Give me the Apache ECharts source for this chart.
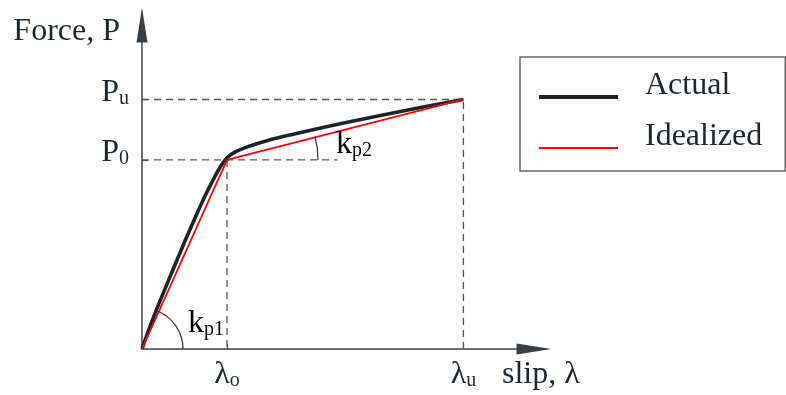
<!DOCTYPE html>
<html><head><meta charset="utf-8">
<script src="https://cdn.jsdelivr.net/npm/echarts@6.0.0/dist/echarts.min.js"></script>
<style>html,body{margin:0;padding:0;background:#fff}#c{width:786px;height:395px}</style>
</head><body><div id="c"></div>
<script>
// ---- data ----
const slipTickValues = [1.0, 3.78];
const slipTickMain = ['λ', 'λ'];
const slipTickSub = ['o', 'u'];
const forceTickValues = [1.0, 1.32];
const forceTickMain = ['P', 'P'];
const forceTickSub = ['0', 'u'];
const idealSlip = [0, 1.0, 3.78];
const idealForce = [0, 1.0, 1.32];
const actualSlip = [0, 0.12, 0.30, 0.50, 0.70, 0.82, 0.91, 1.00, 1.11, 1.27, 1.47, 1.74, 2.40, 3.10, 3.78];
const actualForce = [0, 0.15, 0.35, 0.565, 0.77, 0.88, 0.955, 1.012, 1.045, 1.074, 1.102, 1.132, 1.198, 1.262, 1.32];
const slipAxisMax = 4.61;
const forceAxisMax = 1.714;
const p0GuideEnd = 2.3;
const stiffnessSubs = ['p1', 'p2'];
const seriesNames = ['Actual', 'Idealized'];

// ---- chart ----
const FONT = 'Liberation Serif';
const TXT = '#1f2630';
const rich = {
  m: {fontSize: 32, lineHeight: 32, fontFamily: FONT, color: TXT, verticalAlign: 'bottom'},
  s: {fontSize: 20, lineHeight: 22, fontFamily: FONT, color: TXT, verticalAlign: 'bottom'}
};
const pick = (vals, v) => vals.findIndex(t => Math.abs(t - v) < 1e-9);
const zip = (a, b) => a.map((x, i) => [x, b[i]]);
const P0 = [idealSlip[1], idealForce[1]];
const PU = [slipTickValues[1], forceTickValues[1]];
const guide = {color: '#555', width: 1.3, type: [7, 5]};
const BLACK = '#1c232b';
const RED = '#ff0000';

const chart = echarts.init(document.getElementById('c'), null, {renderer: 'canvas'});
chart.setOption({
  animation: false,
  backgroundColor: '#fff',
  grid: {left: 142, right: 252, top: 25, bottom: 46, containLabel: false, outerBoundsMode: 'none'},
  xAxis: {
    type: 'value', min: 0, max: slipAxisMax,
    name: 'slip, λ', nameLocation: 'end', nameGap: -32, nameMoveOverlap: false,
    nameTextStyle: {fontFamily: FONT, fontSize: 32, color: TXT, align: 'left', verticalAlign: 'top', lineHeight: 32, padding: [10, 0, 0, 0]},
    axisLine: {show: true, onZero: false, symbol: ['none', 'triangle'], symbolSize: [11, 35], lineStyle: {color: '#3a3f45', width: 1.5}},
    axisTick: {show: true, inside: true, length: 5, customValues: slipTickValues, lineStyle: {color: '#555', width: 1.2}},
    axisLabel: {show: true, customValues: slipTickValues, margin: 10,
      formatter: v => { const i = pick(slipTickValues, v); return i < 0 ? '' : `{m|${slipTickMain[i]}}{s|${slipTickSub[i]}}`; }, rich},
    splitLine: {show: false}
  },
  yAxis: {
    type: 'value', min: 0, max: forceAxisMax,
    name: 'Force, P', nameLocation: 'end', nameGap: 9, nameMoveOverlap: false,
    nameTextStyle: {fontFamily: FONT, fontSize: 32, color: TXT, align: 'right', verticalAlign: 'top', lineHeight: 32, padding: [0, 22, 0, 0]},
    axisLine: {show: true, onZero: false, symbol: ['none', 'triangle'], symbolSize: [11, 35], lineStyle: {color: '#3a3f45', width: 1.5}},
    axisTick: {show: true, inside: true, length: 6, customValues: forceTickValues, lineStyle: {color: '#555', width: 1.2}},
    axisLabel: {show: true, customValues: forceTickValues, margin: 13, padding: [0, 0, 14, 0],
      formatter: v => { const i = pick(forceTickValues, v); return i < 0 ? '' : `{m|${forceTickMain[i]}}{s|${forceTickSub[i]}}`; }, rich},
    splitLine: {show: false}
  },
  legend: {
    data: [
      {name: seriesNames[0], icon: 'path://M0,0M79,36M0,27L79,27L79,31L0,31Z', itemStyle: {color: BLACK}},
      {name: seriesNames[1], icon: 'path://M0,0M79,36M0,28L79,28L79,30L0,30Z', itemStyle: {color: RED}}
    ],
    orient: 'vertical', left: 520, top: 57,
    padding: [11, 23, 16, 19], itemWidth: 79, itemHeight: 36, itemGap: 15, selectedMode: false,
    borderColor: '#666', borderWidth: 1.5, backgroundColor: '#fff',
    textStyle: {fontFamily: FONT, fontSize: 32, color: TXT, lineHeight: 32, padding: [0, 0, 0, 22]}
  },
  series: [
    {type: 'line', name: 'guideU', data: [[0, PU[1]], PU, [PU[0], 0]], symbol: 'none', silent: true, lineStyle: guide, z: 1},
    {type: 'line', name: 'guide0', data: [[0, P0[1]], [p0GuideEnd, P0[1]]], symbol: 'none', silent: true, lineStyle: guide, z: 1},
    {type: 'line', name: 'guide0v', data: [P0, [P0[0], 0]], symbol: 'none', silent: true, lineStyle: guide, z: 1},
    {type: 'line', name: seriesNames[0], data: zip(actualSlip, actualForce), symbol: 'none', showSymbol: false, smooth: 0.4,
      color: BLACK, lineStyle: {color: BLACK, width: 3.6}, z: 3},
    {type: 'line', name: seriesNames[1], data: zip(idealSlip, idealForce), symbol: 'none', showSymbol: false, smooth: false,
      color: RED, lineStyle: {color: RED, width: 1.8}, z: 4},
    {type: 'custom', name: 'angles', silent: true, z: 5,
      data: [[idealSlip[0], idealForce[0]], P0],
      renderItem: (params, api) => {
        const c = api.coord([api.value(0), api.value(1)]);
        const i = params.dataIndex;
        const r = i === 0 ? 41 : 91;
        const ang = (i === 0 ? 67 : 15) * Math.PI / 180;
        const tx = i === 0 ? 46 : 109;
        const ty = i === 0 ? -9 : 1;
        return {type: 'group', children: [
          {type: 'arc', shape: {cx: c[0], cy: c[1], r: r, startAngle: -ang, endAngle: 0, clockwise: true},
            style: {stroke: '#333', fill: 'none', lineWidth: 1.2}},
          {type: 'text', x: c[0] + tx, y: c[1] + ty,
            style: {text: `{m|k}{s|${stiffnessSubs[i]}}`, rich: rich, verticalAlign: 'bottom', align: 'left'}}
        ]};
      }}
  ]
});
</script></body></html>
